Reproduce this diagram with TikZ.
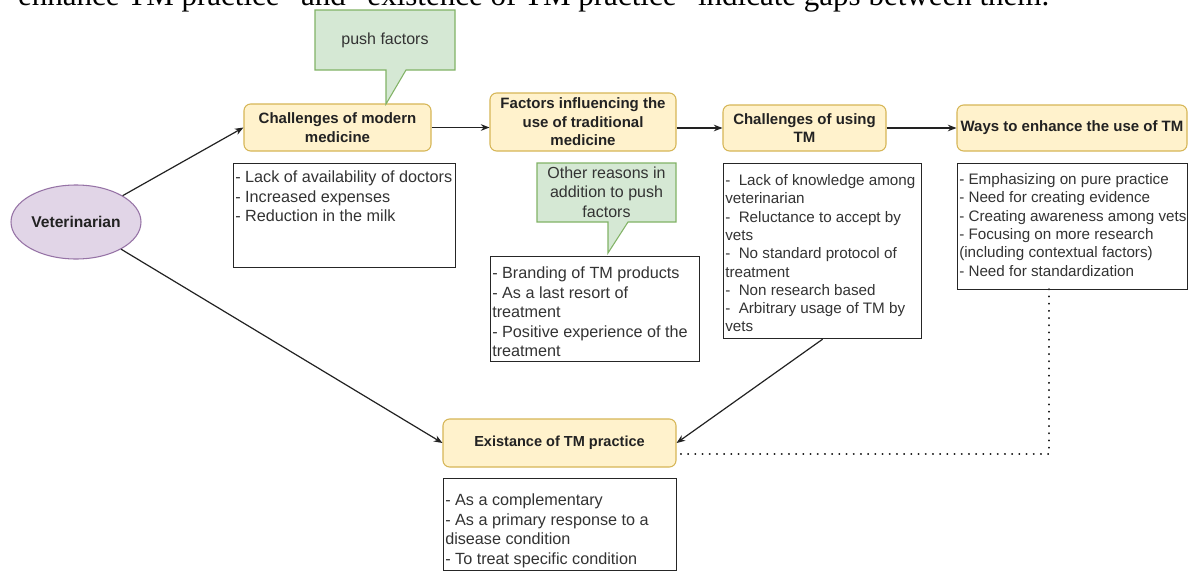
\documentclass[tikz,border=0pt]{standalone}
\usepackage{fontspec}
\setmainfont{Liberation Sans}
\newfontfamily\serifline{Liberation Serif}
\usetikzlibrary{arrows.meta,shapes.geometric}

\definecolor{ylwfill}{HTML}{FFF2CC}
\definecolor{ylwdraw}{HTML}{D6B656}
\definecolor{grnfill}{HTML}{D5E8D4}
\definecolor{grndraw}{HTML}{82B366}
\definecolor{purfill}{HTML}{E1D5E7}
\definecolor{purdraw}{HTML}{9673A6}
\definecolor{ink}{HTML}{222222}
\definecolor{bodyink}{HTML}{333333}

\begin{document}
\begin{tikzpicture}[x=0.75pt,y=-0.75pt,
  size/.style 2 args={minimum width={#1*0.75pt},minimum height={#2*0.75pt}},
  stage/.style={draw=ylwdraw, fill=ylwfill, rounded corners=5pt, line width=0.8pt,
    inner sep=0pt, align=center, text=ink,
    font=\fontsize{11.25}{13.9}\selectfont\bfseries},
  listbox/.style={draw=black!85, fill=white, line width=0.9pt, inner sep=0pt, anchor=north west},
  listtext/.style={anchor=north west, inner sep=0pt, align=left, text=bodyink},
  bigtext/.style={listtext, font=\fontsize{12.15}{14.6}\selectfont},
  smalltext/.style={listtext, font=\fontsize{11.4}{13.7}\selectfont},
  callout/.style={draw=grndraw, fill=grnfill, line width=0.8pt, line join=miter},
  calltext/.style={align=center, inner sep=0pt, text=bodyink, font=\fontsize{12}{14.6}\selectfont},
  link/.style={draw=ink, line width=0.9pt, -{Stealth[length=6.5pt,width=5pt]}},
  gap/.style={draw=ink, line width=1.1pt, line cap=round, dash pattern=on 0.4pt off 5pt}
]
\useasboundingbox (0,0) rectangle (1188,571);
\clip (0,0) rectangle (1188,571);
\fill[white] (0,0) rectangle (1188,571);

% running text of the page, cut at the top edge
\node[anchor=base west, inner sep=0pt, font=\serifline\fontsize{23.25}{28}\selectfont] (pageline) at (4,5)
  {“enhance TM practice” and “existence of TM practice” indicate gaps between them.};

% main stages
\node[ellipse, draw=purdraw, fill=purfill, line width=0.8pt, size={130}{74}, inner sep=0pt,
  text=ink, font=\fontsize{11.7}{14}\selectfont\bfseries] (V) at (76,222) {Veterinarian};
\node[stage, size={187}{47}] (C1) at (337.5,127.5) {Challenges of modern\\medicine};
\node[stage, size={186}{58}] (F) at (583,122) {Factors influencing the\\use of traditional\\medicine};
\node[stage, size={163}{46}] (C2) at (804.5,128) {Challenges of using\\TM};
\node[stage, size={230}{46}] (W) at (1072,128) {Ways to enhance the use of TM};
\node[stage, size={233}{48}, font=\fontsize{10.9}{13.5}\selectfont\bfseries] (E) at (559.5,443) {Existance of TM practice};

% lists under the stages
\node[listbox, size={222}{104}] (L1) at (233,163) {};
\node[bigtext] (T1) at (235,170.7) {- Lack of availability of doctors\\- Increased expenses\\- Reduction in the milk};

\node[listbox, size={209}{105}] (L2) at (490,256) {};
\node[bigtext] (T2) at (492,266.7) {- Branding of TM products\\- As a last resort of\\treatment\\- Positive experience of the\\treatment};

\node[listbox, size={198}{175}] (L3) at (723,163) {};
\node[smalltext] (T3) at (725,174.4) {-~ Lack of knowledge among\\veterinarian\\-~ Reluctance to accept by\\vets\\-~ No standard protocol of\\treatment\\-~ Non research based\\-~ Arbitrary usage of TM by\\vets};

\node[listbox, size={230}{126}] (L4) at (957,163) {};
\node[smalltext] (T4) at (959,173.4) {- Emphasizing on pure practice\\- Need for creating evidence\\- Creating awareness among vets\\- Focusing on more research\\(including contextual factors)\\- Need for standardization};

\node[listbox, size={233}{92}] (L5) at (443,478) {};
\node[bigtext] (T5) at (445,493.7) {- As a complementary\\- As a primary response to a\\disease condition\\- To treat specific condition};

% callouts
\draw[callout] (315,10) -- (455,10) -- (455,70) -- (406,70) -- (386,104) -- (386,70) -- (315,70) -- cycle;
\node[calltext] (P1) at (385,40) {push factors};
\draw[callout] (537,163) -- (676,163) -- (676,222) -- (628,222) -- (608,253) -- (608,222) -- (537,222) -- cycle;
\node[calltext] (P2) at (606.5,192) {Other reasons in\\addition to push\\factors};

% connectors
\draw[link] (V) -- (C1.west);
\draw[link] (V) -- (E.west);
\draw[link] (C1.east) -- (C1.east -| F.west);
\draw[link] (C2.west -| F.east) -- (C2.west);
\draw[link] (C2.east) -- (W.west);
\draw[link] (L3.south) -- (E.east);

\coordinate (dtop) at (1049,289);
\coordinate (dturn) at (1049,454);
\draw[gap] (dtop) -- (dturn) -- (dturn -| E.east);
\end{tikzpicture}
\end{document}
